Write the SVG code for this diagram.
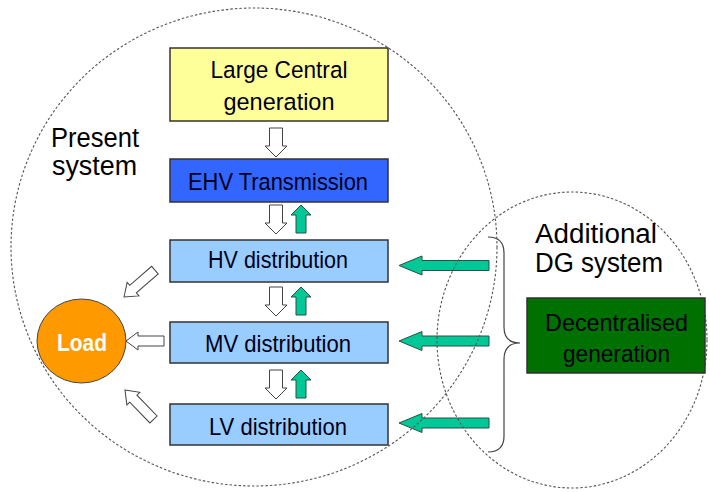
<svg xmlns="http://www.w3.org/2000/svg" width="710" height="492" viewBox="0 0 710 492">
<style>
.t{font-family:"Liberation Sans",Arial,sans-serif;font-size:24.5px;fill:#000018}
.lbl{font-family:"Liberation Sans",Arial,sans-serif;font-size:27px;fill:#000}
.box{stroke:#333;stroke-width:1.5}
.sys{fill:none;stroke:#555;stroke-width:1.1;stroke-dasharray:2.5 2}
.wa{fill:#fff;stroke:#444;stroke-width:1}
.ga{fill:#00C896;stroke:#2d4f45;stroke-width:1}
</style>
<defs>
<path id="wdown" d="M-6.5,0 H6.5 V18 H11 L0,29 L-11,18 H-6.5 Z"/>
<path id="gup" d="M0,0 L10,10 H5 V28 H-5 V10 H-10 Z"/>
<path id="gleft" d="M0,0 L23,-9.5 V-5 H90 V5 H23 V9.5 Z"/>
<path id="wleft" d="M0,0 L12,-9 V-5 H38 V5 H12 V9 Z"/>
<path id="wdiag" d="M0,0 L12,-9 V-5 H41 V5 H12 V9 Z"/>
</defs>

<g id="connectors">
  <use href="#wdown" class="wa" transform="translate(276,128)"/>
  <use href="#wdown" class="wa" transform="translate(276,205)"/>
  <use href="#gup" class="ga" transform="translate(301,205)"/>
  <use href="#wdown" class="wa" transform="translate(276,287)"/>
  <use href="#gup" class="ga" transform="translate(301,287)"/>
  <use href="#wdown" class="wa" transform="translate(276,370)"/>
  <use href="#gup" class="ga" transform="translate(301,370)"/>
  <use href="#gleft" class="ga" transform="translate(399,265.5)"/>
  <use href="#gleft" class="ga" transform="translate(399,341)"/>
  <use href="#gleft" class="ga" transform="translate(399,423)"/>
  <use href="#wleft" class="wa" transform="translate(126,341)"/>
  <use href="#wdiag" class="wa" transform="translate(124,297) rotate(-41)"/>
  <use href="#wdiag" class="wa" transform="translate(125,390) rotate(46)"/>
  <path d="M488,237 Q504,237 504,253 V327 Q504,343 520,343 Q504,343 504,359 V436 Q504,452 488,452" fill="none" stroke="#444" stroke-width="1.2"/>
</g>

<g id="present-system">
  <ellipse class="sys" cx="254" cy="247" rx="243" ry="239"/>
  <text class="lbl" x="51" y="147" textLength="88" lengthAdjust="spacingAndGlyphs">Present</text>
  <text class="lbl" x="52" y="175" textLength="85" lengthAdjust="spacingAndGlyphs">system</text>
</g>

<g id="dg-system">
  <ellipse class="sys" cx="572" cy="340" rx="135" ry="148"/>
  <text class="lbl" x="535" y="243" textLength="122" lengthAdjust="spacingAndGlyphs">Additional</text>
  <text class="lbl" x="535" y="272" textLength="128" lengthAdjust="spacingAndGlyphs">DG system</text>
</g>

<g id="large-central">
  <rect class="box" x="170" y="48" width="218" height="73" fill="#FFFF99"/>
  <text class="t" x="279" y="78" text-anchor="middle" textLength="137" lengthAdjust="spacingAndGlyphs">Large Central</text>
  <text class="t" x="279" y="110" text-anchor="middle" textLength="111" lengthAdjust="spacingAndGlyphs">generation</text>
</g>

<g id="ehv">
  <rect class="box" x="170" y="159" width="218" height="43" fill="#3366FF"/>
  <text class="t" x="278" y="190" text-anchor="middle" textLength="180" lengthAdjust="spacingAndGlyphs">EHV Transmission</text>
</g>

<g id="hv">
  <rect class="box" x="170" y="240" width="218" height="42" fill="#99CCFF"/>
  <text class="t" x="278" y="268" text-anchor="middle" textLength="140" lengthAdjust="spacingAndGlyphs">HV distribution</text>
</g>

<g id="mv">
  <rect class="box" x="170" y="322" width="218" height="41" fill="#99CCFF"/>
  <text class="t" x="278" y="352" text-anchor="middle" textLength="146" lengthAdjust="spacingAndGlyphs">MV distribution</text>
</g>

<g id="lv">
  <rect class="box" x="170" y="404" width="218" height="41" fill="#99CCFF"/>
  <text class="t" x="278" y="435" text-anchor="middle" textLength="138" lengthAdjust="spacingAndGlyphs">LV distribution</text>
</g>

<g id="load">
  <ellipse cx="81.5" cy="341" rx="44.5" ry="42" fill="#FF9900" stroke="#444" stroke-width="1"/>
  <text x="82" y="351" text-anchor="middle" font-family="Liberation Sans, Arial, sans-serif" font-weight="bold" font-size="24.5" fill="#fff" textLength="50" lengthAdjust="spacingAndGlyphs">Load</text>
</g>

<g id="decentralised">
  <rect class="box" x="527" y="298" width="178" height="75" fill="#007000"/>
  <text class="t" x="616.5" y="331" text-anchor="middle" textLength="143" lengthAdjust="spacingAndGlyphs">Decentralised</text>
  <text class="t" x="616.5" y="362" text-anchor="middle" textLength="107" lengthAdjust="spacingAndGlyphs">generation</text>
</g>
</svg>
